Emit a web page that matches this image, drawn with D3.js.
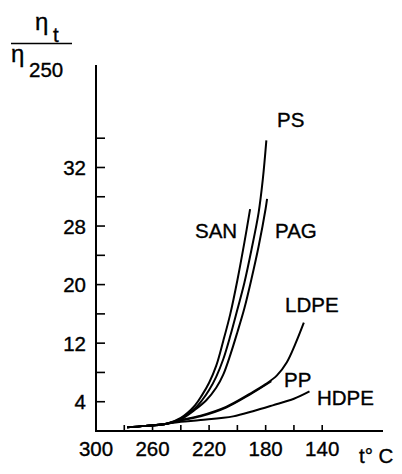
<!DOCTYPE html>
<html>
<head>
<meta charset="utf-8">
<script src="https://cdn.jsdelivr.net/npm/d3@7"></script>
<style>
  body { margin: 0; background: #fff; }
  svg text { font-family: "Liberation Sans", Arial, sans-serif; font-size: 20.5px; fill: #000; stroke: #000; stroke-width: 0.35px; }
</style>
</head>
<body>
<svg id="chart" width="402" height="474"></svg>
<script>
// temperatures (deg C) and viscosity ratio eta_t / eta_250
const sanT  = [278, 265, 250, 240, 230, 225, 220, 215, 210, 205, 200, 195, 191];
const sanV  = [0.5, 0.7, 1.0, 1.8, 3.5, 4.9, 6.6, 8.9, 12.3, 16.0, 20.6, 25.8, 30.3];
const psT   = [278, 265, 250, 240, 230, 225, 220, 215, 210, 205, 200, 195, 190, 185, 182, 179.5];
const psV   = [0.5, 0.7, 1.0, 1.7, 3.1, 4.2, 5.6, 7.4, 9.8, 13.0, 16.6, 20.3, 24.8, 29.8, 34.4, 39.7];
const pagT  = [278, 265, 250, 240, 230, 222, 215, 210, 205, 200, 195, 190, 185, 180, 179];
const pagV  = [0.5, 0.7, 1.0, 1.6, 2.9, 4.2, 5.9, 7.7, 10.4, 13.5, 16.8, 20.8, 25.2, 30.4, 31.7];
const ldpeT = [278, 265, 250, 240, 226, 208, 191, 180, 172, 165, 159, 153];
const ldpeV = [0.5, 0.7, 1.0, 1.5, 2.1, 3.3, 5.1, 6.4, 7.6, 9.4, 11.9, 14.8];
const ppT   = [278, 265, 250, 240, 226, 208, 191, 176];
const ppV   = [0.5, 0.7, 1.0, 1.45, 2.0, 3.2, 5.0, 6.8];
const hdpeT = [278, 265, 250, 240, 226, 203, 189, 175, 160, 149];
const hdpeV = [0.5, 0.7, 1.0, 1.25, 1.5, 2.0, 2.7, 3.5, 4.4, 5.4];

const seriesNames = ['SAN', 'PS', 'PAG', 'LDPE', 'PP', 'HDPE'];
const seriesT = [sanT, psT, pagT, ldpeT, ppT, hdpeT];
const seriesV = [sanV, psV, pagV, ldpeV, ppV, hdpeV];

const xTicks = [280, 260, 240, 220, 200, 180, 160, 140];
const xTickLabels = [300, 260, 220, 180, 140];
const yTicks = [4, 8, 12, 16, 20, 24, 28, 32, 36, 40];
const yLabelValues = [4, 12, 20, 28, 36];
const yLabelTexts = ['4', '12', '20', '28', '32'];

// label anchor points (temperature, ratio) for series names
const labelT = [230, 172, 173.4, 166.3, 167, 143.7];
const labelV = [26.4, 41.5, 26.4, 16.3, 6.0, 3.55];

const svg = d3.select('#chart');

const x = d3.scaleLinear().domain([300, 97]).range([96, 383]);
const y = d3.scaleLinear().domain([0, 50]).range([431, 65]);

// axes
svg.append('line')
  .attr('x1', x(300)).attr('x2', x(300))
  .attr('y1', y(50)).attr('y2', y(0) + 1)
  .attr('stroke', '#000').attr('stroke-width', 2);
svg.append('line')
  .attr('x1', x(300) - 1).attr('x2', x(97))
  .attr('y1', y(0)).attr('y2', y(0))
  .attr('stroke', '#000').attr('stroke-width', 2);

svg.selectAll('.ytick')
  .data(yTicks)
  .join('line')
  .attr('class', 'ytick')
  .attr('x1', x(300)).attr('x2', x(300) + 9)
  .attr('y1', function(d){ return y(d); })
  .attr('y2', function(d){ return y(d); })
  .attr('stroke', '#000').attr('stroke-width', 1.6);

svg.selectAll('.ylabel')
  .data(yLabelValues)
  .join('text')
  .attr('class', 'ylabel')
  .attr('x', 86)
  .attr('y', function(d){ return y(d) + 7.5; })
  .attr('text-anchor', 'end')
  .text(function(d, i){ return yLabelTexts[i]; });

svg.selectAll('.xtick')
  .data(xTicks)
  .join('line')
  .attr('class', 'xtick')
  .attr('x1', function(d){ return x(d); })
  .attr('x2', function(d){ return x(d); })
  .attr('y1', y(0)).attr('y2', y(0) - 6)
  .attr('stroke', '#000').attr('stroke-width', 1.6);

svg.selectAll('.xlabel')
  .data(xTickLabels)
  .join('text')
  .attr('class', 'xlabel')
  .attr('x', function(d){ return x(d); })
  .attr('y', 456)
  .attr('text-anchor', 'middle')
  .text(function(d){ return d; });

svg.append('text')
  .attr('x', 359).attr('y', 463)
  .text('t° C');

// y title: eta_t / eta_250
svg.append('text').attr('x', 35).attr('y', 30).style('font-size', '24px').text('η');
svg.append('text').attr('x', 53).attr('y', 42).text('t');
svg.append('line')
  .attr('x1', 11).attr('x2', 72)
  .attr('y1', 43.5).attr('y2', 43.5)
  .attr('stroke', '#000').attr('stroke-width', 1.5);
svg.append('text').attr('x', 11).attr('y', 62).style('font-size', '24px').text('η');
svg.append('text').attr('x', 29).attr('y', 77).text('250');

// curves
const line = d3.line()
  .x(function(d){ return x(d[0]); })
  .y(function(d){ return y(d[1]); })
  .curve(d3.curveCatmullRom.alpha(0.5));

seriesNames.forEach(function(name, i){
  const pts = seriesT[i].map(function(t, j){ return [t, seriesV[i][j]]; });
  svg.append('path')
    .attr('d', line(pts))
    .attr('fill', 'none')
    .attr('stroke', '#000')
    .attr('stroke-width', 2);
});

svg.selectAll('.slabel')
  .data(seriesNames)
  .join('text')
  .attr('class', 'slabel')
  .attr('x', function(d, i){ return x(labelT[i]); })
  .attr('y', function(d, i){ return y(labelV[i]); })
  .text(function(d){ return d; });
</script>
</body>
</html>
